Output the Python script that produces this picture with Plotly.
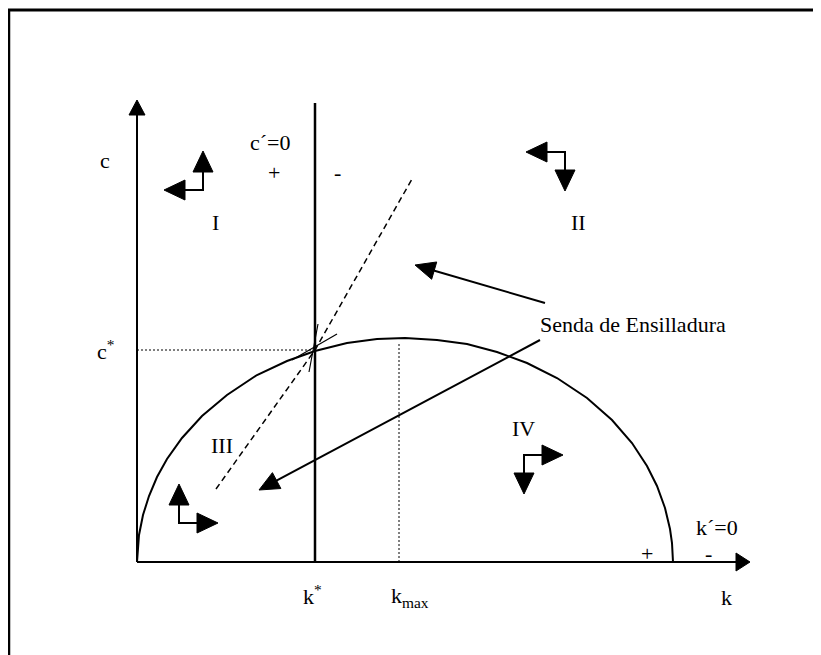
import plotly.graph_objects as go
import math

# ---- data (economic coordinates: k to the right, c upward; origin at axes crossing) ----
# k'=0 locus (hump-shaped curve)
curve_k = [0, 2, 6, 12, 20, 30, 45, 65, 90, 120, 150, 178, 210, 240, 268, 300, 330, 360,
           390, 420, 450, 475, 495, 510, 520, 528, 533, 535, 536]
curve_c = [0, 27, 47, 66, 85, 103, 124, 146, 167, 187, 201, 211, 219, 223, 224, 222, 218, 210,
           199, 184, 164, 142, 119, 96, 76, 54, 33, 19, 0]

k_star = 178
c_star = 212
k_max = 262
c_at_kmax = 224

c_axis_top = 462
k_axis_end = 613
cdot_line_top = 459

# saddle path (dashed)
saddle_k = [79, 178, 275]
saddle_c = [73, 212, 383]

# small strokes at the steady state
tick_a_k = [155, 200]
tick_a_c = [202, 228]
tick_b_k = [172, 181]
tick_b_c = [190, 238]

# "Senda de Ensilladura" pointer arrows: start (near label) -> tip
senda_start_k = [408, 403]
senda_start_c = [259, 222]
senda_tip_k = [278, 122]
senda_tip_c = [297, 72]

# phase arrows: corner position and directions (horizontal, vertical)
phase_k = [66, 428, 42, 387]
phase_c = [372, 410, 39, 107]
phase_dk = [-1, -1, 1, 1]
phase_dc = [1, -1, 1, -1]

# labels
label_text = ["c", "c<sup>*</sup>", "c\u00b4=0", "+", "-", "I", "II", "III", "IV",
              "k\u00b4=0", "+", "-", "k<sup>*</sup>", "k<sub>max</sub>", "k"]
label_k = [-32, -32, 133, 137, 200, 78, 441, 85, 386, 580, 510, 571, 175, 273, 589]
label_c = [402, 212, 420, 390, 390, 340, 340, 117, 134, 35, 9, 9, -33, -35, -35]
senda_label = "Senda de Ensilladura"
senda_label_k = 591
senda_label_c = 238

# ---- figure ----
# page body has an 8px margin, so the figure is 8px smaller and its range starts 8px in
W, H = 813, 647
X0 = -129
Y1 = 554
X1, Y0 = X0 + W, Y1 - H
fig = go.Figure()

BLACK = "black"


def line(xs, ys, width=2, dash=None):
    fig.add_trace(go.Scatter(x=xs, y=ys, mode="lines",
                             line=dict(color=BLACK, width=width, dash=dash),
                             hoverinfo="skip", showlegend=False))


def tri(tx, ty, dx, dy, L=20, W=10):
    n = math.hypot(dx, dy)
    ux, uy = dx / n, dy / n
    bx, by = tx - ux * L, ty - uy * L
    px, py = -uy, ux
    xs = [tx, bx + px * W, bx - px * W, tx]
    ys = [ty, by + py * W, by - py * W, ty]
    fig.add_trace(go.Scatter(x=xs, y=ys, mode="lines", fill="toself",
                             fillcolor=BLACK, line=dict(color=BLACK, width=1),
                             hoverinfo="skip", showlegend=False))


# outer frame (top and left edges visible)
line([X0, X1], [552, 552], width=3)
line([X0 + 1, X0 + 1], [552, Y0], width=2.5)

# axes
line([0, 0], [0, c_axis_top - 12], width=2)
tri(0, c_axis_top, 0, 1, L=15, W=8)
line([0, k_axis_end - 10], [0, 0], width=2)
tri(k_axis_end, 0, 1, 0, L=14, W=9)

# c'=0 vertical locus
line([k_star, k_star], [0, cdot_line_top], width=2.5)

# k'=0 curve
line(curve_k, curve_c, width=2)

# dotted guides
line([0, k_star], [c_star, c_star], width=1, dash="2px,2px")
line([k_max, k_max], [0, c_at_kmax - 4], width=1, dash="2px,2px")

# saddle path
line(saddle_k, saddle_c, width=1.5, dash="6px,4px")
line(tick_a_k, tick_a_c, width=1.2)
line(tick_b_k, tick_b_c, width=1.2)

# senda pointer arrows
for sk, sc, tk, tc in zip(senda_start_k, senda_start_c, senda_tip_k, senda_tip_c):
    dx, dy = tk - sk, tc - sc
    n = math.hypot(dx, dy)
    line([sk, tk - dx / n * 15], [sc, tc - dy / n * 15], width=2)
    tri(tk, tc, dx, dy, L=20, W=9)

# phase arrows
ARM = 39
for k, c, dk, dc in zip(phase_k, phase_c, phase_dk, phase_dc):
    line([k + dk * (ARM - 15), k, k], [c, c, c + dc * (ARM - 15)], width=2)
    tri(k + dk * ARM, c, dk, 0, L=21, W=10)
    tri(k, c + dc * ARM, 0, dc, L=21, W=10)

# labels
FONT = dict(family="Liberation Serif, Times New Roman, serif", size=22, color=BLACK)
for t, k, c in zip(label_text, label_k, label_c):
    fig.add_annotation(x=k, y=c, text=t, showarrow=False, font=FONT,
                       xanchor="center", yanchor="middle")
fig.add_annotation(x=senda_label_k, y=senda_label_c, text=senda_label, showarrow=False,
                   font=FONT, xanchor="right", yanchor="middle")

fig.update_layout(
    width=W, height=H, autosize=False,
    margin=dict(l=0, r=0, t=0, b=0),
    paper_bgcolor="white", plot_bgcolor="white",
    xaxis=dict(range=[X0, X1], visible=False, fixedrange=True),
    yaxis=dict(range=[Y0, Y1], visible=False, fixedrange=True),
    showlegend=False,
)

fig.write_html("out.html")
